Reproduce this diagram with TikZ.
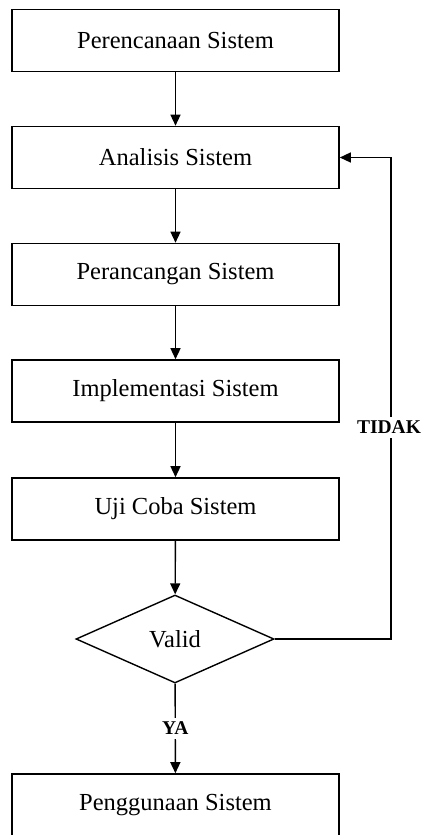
\documentclass[tikz,border=0pt]{standalone}
\usepackage{fontspec}
\setmainfont{Liberation Serif}
\usetikzlibrary{shapes.geometric,arrows.meta}
\begin{document}
\begin{tikzpicture}[x=1pt,y=-1pt,
  box/.style={draw, line width=1.6pt, minimum width=327pt, minimum height=62pt, inner sep=0pt, font=\fontsize{24.5}{26}\selectfont},
  dec/.style={draw, line width=1.4pt, shape=diamond, minimum width=198pt, minimum height=88pt, inner sep=0pt, font=\fontsize{24.5}{26}\selectfont},
  arr/.style={line width=1.4pt, -{Triangle[length=11pt,width=10pt]}},
  lbl/.style={fill=white, inner xsep=1pt, inner ysep=4pt, font=\bfseries\fontsize{19.5}{22}\selectfont}]
\useasboundingbox (0,0) rectangle (423,835);
\node[box] (b1) at (175.5,40.5) {Perencanaan Sistem};
\node[box] (b2) at (175.5,157.5) {Analisis Sistem};
\node[box] (b3) at (175.5,274.5) {Perancangan Sistem};
\node[box] (b4) at (175.5,391) {Implementasi Sistem};
\node[box] (b5) at (175.5,509) {Uji Coba Sistem};
\node[dec] (v) at (175,639) {Valid};
\node[box, minimum height=70pt] (b6) at (175.5,809) {};
\node[font=\fontsize{24.5}{26}\selectfont] (t6) at (175.5,805) {Penggunaan Sistem};
\coordinate (r) at (391,639);
\draw[arr] (b1) -- (b2);
\draw[arr] (b2) -- (b3);
\draw[arr] (b3) -- (b4);
\draw[arr] (b4) -- (b5);
\draw[arr] (b5) -- (v);
\draw[arr] (v) -- node[lbl] (ya) {YA} (b6);
\draw[arr] (v.east) -- (r) -- node[lbl, pos=0.44, xshift=-2pt] (td) {TIDAK} (r |- b2.east) -- (b2.east);
\end{tikzpicture}
\end{document}
